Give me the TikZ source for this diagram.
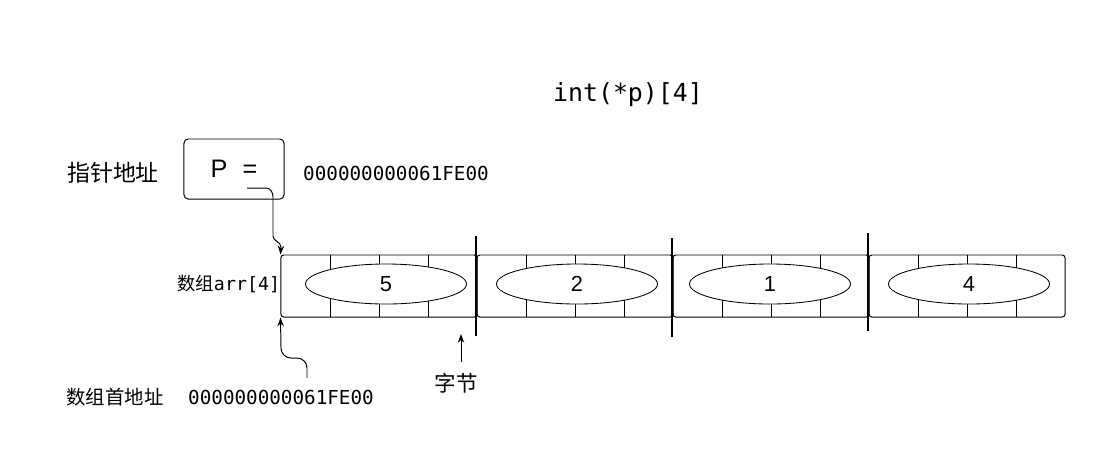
\documentclass[tikz,border=0pt]{standalone}
\usepackage{fontspec}
\setmainfont{Liberation Sans}
\setmonofont{DejaVu Sans Mono}
\newfontfamily\cjk{Noto Sans CJK SC}
\usetikzlibrary{arrows.meta,shapes.geometric}

\begin{document}
\begin{tikzpicture}[x=0.025cm,y=-0.025cm,
		arr/.style={-{Stealth[length=2.2mm,width=1.6mm]},line width=0.7pt},
		cell/.style={draw,line width=0.7pt,rounded corners=2pt,minimum width=4.9cm,minimum height=1.55cm,inner sep=0pt},
		val/.style={draw,ellipse,fill=white,line width=0.6pt,minimum width=4.025cm,minimum height=1cm,inner sep=0pt,font=\fontsize{15.5}{18}\selectfont},
		addr/.style={font=\ttfamily\fontsize{13.7}{16}\selectfont}]
		\useasboundingbox (0,0) rectangle (1107,470);

		\node[font=\ttfamily\fontsize{17.7}{20}\selectfont] (title) at (628,95) {int(*p)[4]};

		\node[font=\cjk\fontsize{16.3}{18}\selectfont] (ptrlabel) at (113,173) {指针地址};
		\node[draw,rounded corners=3pt,line width=0.7pt,minimum width=2.5cm,minimum height=1.5cm,font=\fontsize{18}{20}\selectfont] (pbox) at (234,169) {P\hspace{0.6em}=};
		\node[addr] (paddr) at (396,173) {000000000061FE00};

		% the four elements of arr
		\foreach \i/\v/\c in {0/5/386,1/2/577,2/1/770,3/4/969}{
			\node[cell] (s\i) at ({379+196*\i},286) {};
			\foreach \k in {1,2,3}
				\draw[line width=0.6pt] ({281+196*\i+49*\k},255) -- ++(0,62);
			\node[val] (v\i) at (\c,284) {\v};
		}
		\foreach \x/\a/\b in {476/236/336,672/238/337,868/233/331}
			\draw[line width=1.8pt] (\x,\a) -- (\x,\b);

		\node[anchor=east,font=\fontsize{13}{15}\selectfont] (arrlabel) at (285,284) {{\cjk 数组}{\ttfamily arr[4]}};

		\coordinate (pstart) at (247,188);
		\draw[arr] (pstart) -- (266,188) to[out=0,in=90] (273,197) -- (273,236) to[out=-90,in=90] (281,247) -- (s0.north west);

		\node[font=\cjk\fontsize{13.8}{16}\selectfont] (baselabel) at (115,397) {数组首地址};
		\node[addr] (baddr) at (281,397) {000000000061FE00};
		\coordinate (bstart) at (307,378);
		\draw[arr] (bstart) -- ++(0,-10) to[out=90,in=0] ++(-10,-10) -- ++(-6,0) to[out=180,in=-90] ++(-10,-10) -- (s0.south west);

		\node[font=\cjk\fontsize{15.3}{18}\selectfont] (byte) at (456,383) {字节};
		\coordinate (bytetail) at (461,362);
		\coordinate (bytetip) at (461,334);
		\draw[arr] (bytetail) -- (bytetip);
	\end{tikzpicture}
\end{document}
